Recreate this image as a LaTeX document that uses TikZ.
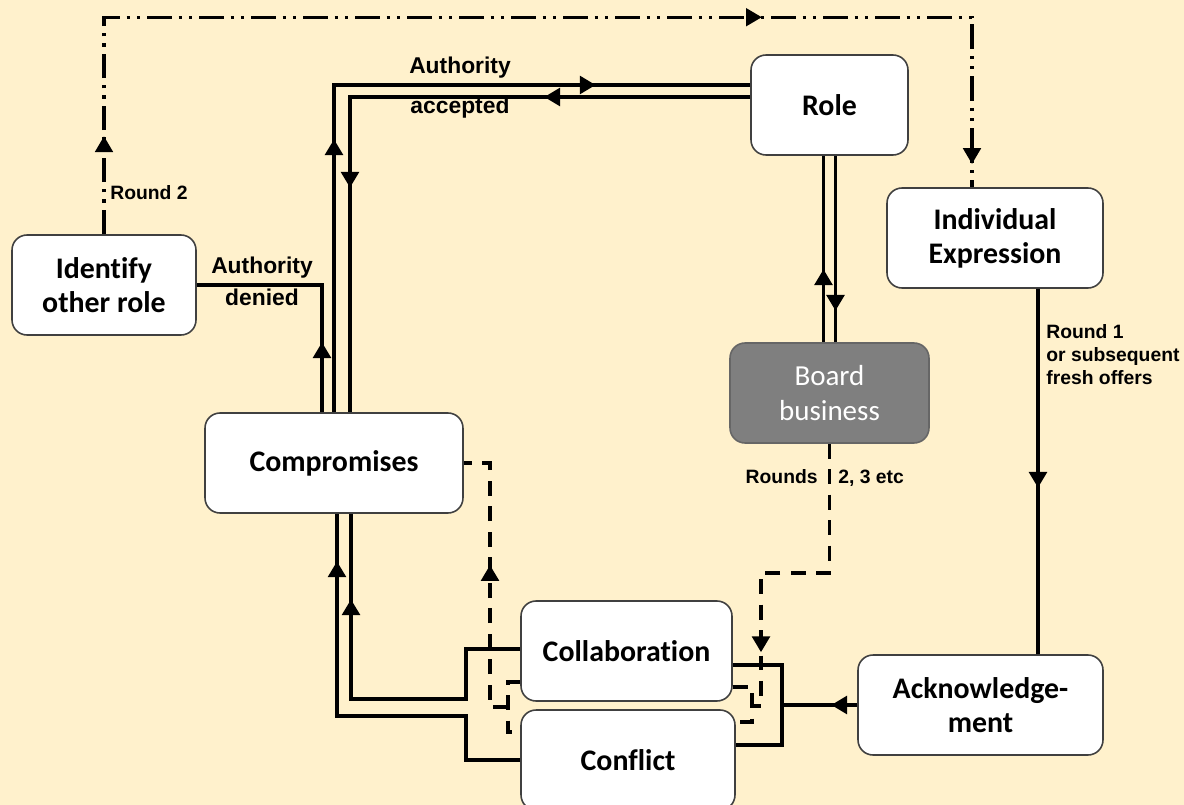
\documentclass[tikz,border=0pt]{standalone}
\usepackage{fontspec}
\setmainfont{Carlito}[Ligatures=NoCommon]
\newfontfamily\labelfont{Liberation Sans}
\usetikzlibrary{arrows.meta,calc,decorations.markings}
\definecolor{cream}{HTML}{FFF1CC}
\definecolor{boardgrey}{HTML}{7F7F7F}

\begin{document}
\begin{tikzpicture}[x=0.02cm, y=-0.02cm,
    box/.style={draw=black!75, line width=0.9pt, fill=white, rounded corners=0.3cm,
      minimum height=2cm, align=center, font=\fontsize{17}{19.5}\selectfont\bfseries},
    wire/.style={line width=2.2pt},
    dashline/.style={line width=2pt, dash pattern=on 8.5pt off 6pt},
    dashdotline/.style={line width=1.8pt, dash pattern=on 14pt off 4pt on 1.8pt off 4pt on 1.8pt off 4pt},
    tipat/.style={postaction={decorate, decoration={markings,
      mark=at position #1 with {\arrow{Triangle[length=9pt, width=10pt]}}}}},
    lbl/.style={font=\labelfont\fontsize{13}{16}\selectfont\bfseries},
    note/.style={font=\labelfont\fontsize{11}{13}\selectfont\bfseries, align=left, inner sep=0pt}]
  \fill[cream] (0,0) rectangle (1184,805);
  \useasboundingbox (0,0) rectangle (1184,805);

  \node[box, minimum width=3.14cm] (role) at (829.5,105) {Role};
  \node[box, minimum width=4.32cm] (indiv) at (995,238) {Individual\\Expression};
  \node[box, minimum width=3.68cm] (ident) at (104,285) {Identify\\other role};
  \node[box, minimum width=3.98cm, fill=boardgrey, draw=boardgrey!80!black, text=white,
        font=\fontsize{16.5}{19.5}\selectfont] (board) at (829.5,393) {Board\\business};
  \node[box, minimum width=5.16cm] (comp) at (334,463) {Compromises};
  \node[box, minimum width=4.22cm] (collab) at (626.5,651) {Collaboration};
  \node[box, minimum width=4.28cm] (conflict) at (628,760) {Conflict};
  \node[box, minimum width=4.9cm] (ack) at (980.5,705) {Acknowledge-\\ment};

  \coordinate (lj) at (508,707);
  \coordinate (rj) at (752,706);
  \coordinate (rk) at (782,705);

  \draw[dashdotline, tipat=1.96cm, tipat=17.5cm, tipat=24.64cm]
    (ident.north) |- ($(indiv.north)+(-23,-170)$) -- ($(indiv.north)+(-23,0)$);

  \draw[wire, tipat=5.46cm, tipat=11.78cm] (comp.north) |- ($(role.west)+(0,-20)$);
  \draw[wire, tipat=4.12cm, tipat=9.82cm] ($(role.west)+(0,-8)$) -| ($(comp.north)+(16,0)$);
  \draw[wire, tipat=1.4cm] ($(comp.north)+(-12,0)$) |- (ident.east);

  \draw[wire, tipat=1.46cm] ($(board.north)+(-6,0)$) -- ($(role.south)+(-6,0)$);
  \draw[wire, tipat=3.1cm] ($(role.south)+(6,0)$) -- ($(board.north)+(6,0)$);

  \draw[wire, tipat=3.98cm] ($(indiv.south)+(43,0)$) -- ($(ack.north)+(57.5,0)$);
  \draw[wire, tipat=0.52cm] (ack.west) -- (rk);
  \draw[wire] ($(collab.east)+(0,14)$) -| (rk) |- ($(conflict.east)+(0,-15)$);

  \draw[wire, tipat=6.38cm] ($(collab.west)+(0,-2)$) -| ++(-54,50) -| ($(comp.south)+(17,0)$);
  \draw[wire, tipat=7.64cm] (conflict.west) -| ++(-54,-44) -| ($(comp.south)+(3,0)$);

  \draw[dashline] ($(collab.west)+(0,31)$) -| (lj) |- ($(conflict.west)+(0,-28)$);
  \draw[dashline] ($(collab.east)+(0,36)$) -| (rj) |- ($(conflict.east)+(0,-38)$);
  \draw[dashline, tipat=3.2cm] (lj) -- ++(-18,0) |- (comp.east);
  \draw[dashline, tipat=5.54cm] (board.south) -- ++(0,129) -| ($(rj)+(9,0)$) -- (rj);

  \node[lbl] (acc1) at (460,68) {Authority};
  \node[lbl] (acc2) at (460,108) {accepted};
  \node[lbl] (den1) at (262,268) {Authority};
  \node[lbl] (den2) at (262,297) {denied};
  \node[note, anchor=west] (r2) at (110,193) {Round 2};
  \node[note, anchor=north west] (r1) at (1046,324) {Round 1\\or subsequent\\fresh offers};
  \node[note, anchor=east] (rds) at (818,477) {Rounds};
  \node[note, anchor=west] (rds2) at (838,478) {2, 3 etc};
\end{tikzpicture}
\end{document}
